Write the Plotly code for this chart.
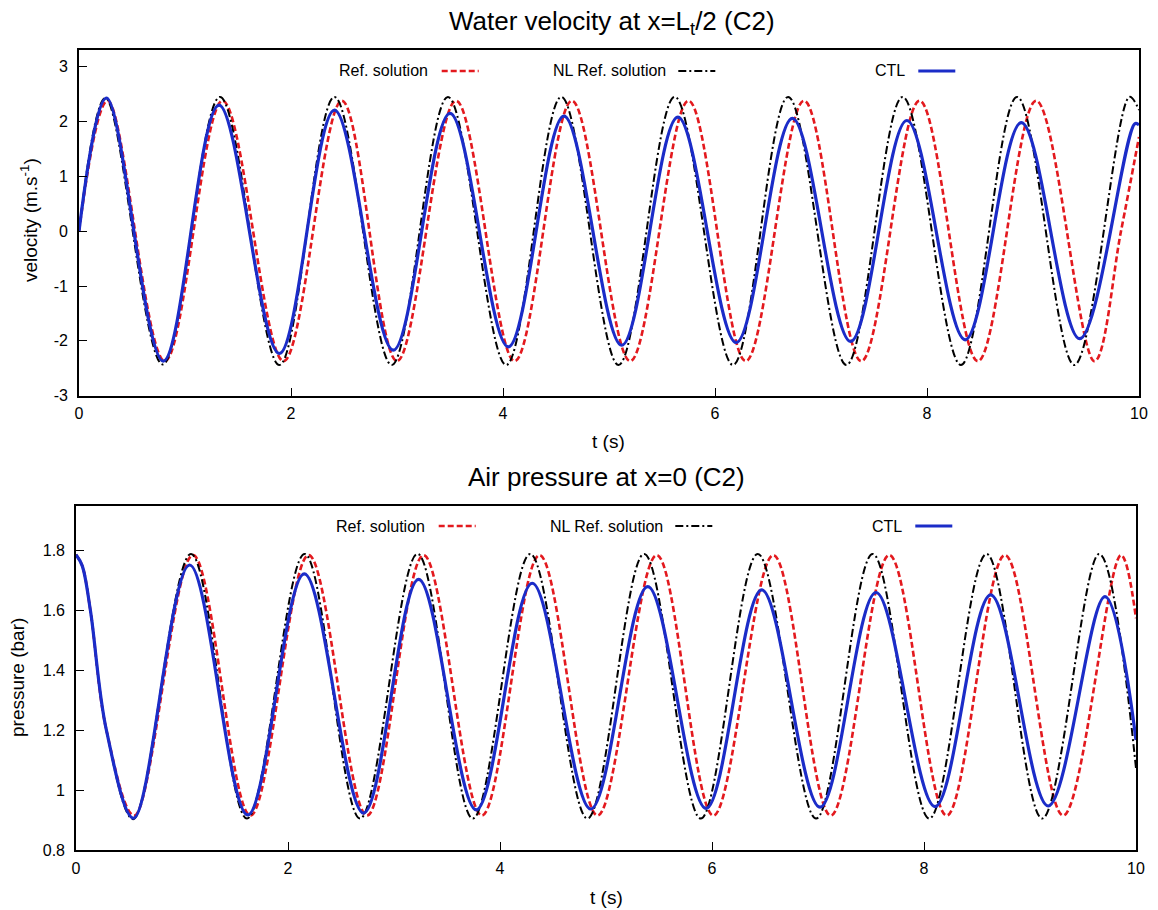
import plotly.graph_objects as go

# ---------------- data ----------------
# Top panel: water velocity (m/s) vs t (s); extrema + end points
vel_ref_t = [0, 0.27, 0.81, 1.355, 1.93, 2.48, 3.00, 3.557, 4.11, 4.65, 5.20, 5.75, 6.29, 6.84, 7.38, 7.93, 8.48, 9.03, 9.58, 9.83, 10]
vel_ref_v = [0, 2.38, -2.37, 2.38, -2.37, 2.38, -2.37, 2.38, -2.37, 2.38, -2.37, 2.38, -2.37, 2.38, -2.37, 2.38, -2.37, 2.38, -2.37, 0.0, 1.72]

vel_nl_t = [0, 0.25, 0.79, 1.33, 1.89, 2.41, 2.95, 3.48, 4.03, 4.55, 5.09, 5.62, 6.17, 6.69, 7.24, 7.77, 8.32, 8.85, 9.39, 9.91, 10]
vel_nl_v = [0, 2.43, -2.43, 2.45, -2.44, 2.45, -2.44, 2.45, -2.44, 2.45, -2.44, 2.45, -2.44, 2.45, -2.44, 2.45, -2.44, 2.45, -2.44, 2.45, 2.21]

vel_ctl_t = [0, 0.26, 0.795, 1.32, 1.89, 2.41, 2.965, 3.50, 4.05, 4.575, 5.12, 5.65, 6.20, 6.73, 7.28, 7.81, 8.36, 8.89, 9.44, 9.96, 10]
vel_ctl_v = [0, 2.43, -2.37, 2.30, -2.23, 2.21, -2.17, 2.15, -2.11, 2.10, -2.08, 2.08, -2.03, 2.06, -2.01, 2.02, -1.98, 1.98, -1.96, 1.96, 1.94]

# Bottom panel: air pressure (bar) vs t (s)
pre_ref_t = [0, 0.058, 0.136, 0.287, 0.55, 1.104, 1.645, 2.195, 2.745, 3.279, 3.829, 4.373, 4.92, 5.479, 6.013, 6.579, 7.12, 7.673, 8.214, 8.764, 9.313, 9.858, 10]
pre_ref_v = [1.786, 1.75, 1.60, 1.20, 0.915, 1.785, 0.915, 1.785, 0.915, 1.785, 0.915, 1.785, 0.915, 1.785, 0.915, 1.785, 0.915, 1.785, 0.915, 1.785, 0.915, 1.785, 1.574]

pre_nl_t = [0, 0.058, 0.136, 0.287, 0.54, 1.085, 1.613, 2.157, 2.68, 3.222, 3.744, 4.285, 4.825, 5.36, 5.894, 6.432, 6.982, 7.516, 8.05, 8.59, 9.115, 9.653, 10]
pre_nl_v = [1.786, 1.75, 1.60, 1.20, 0.903, 1.789, 0.905, 1.789, 0.905, 1.789, 0.905, 1.789, 0.905, 1.789, 0.905, 1.789, 0.905, 1.789, 0.905, 1.789, 0.905, 1.789, 1.073]

pre_ctl_t = [0, 0.058, 0.136, 0.287, 0.544, 1.072, 1.62, 2.154, 2.713, 3.232, 3.776, 4.304, 4.857, 5.394, 5.944, 6.469, 7.019, 7.547, 8.104, 8.629, 9.172, 9.707, 10]
pre_ctl_v = [1.786, 1.75, 1.60, 1.20, 0.906, 1.752, 0.917, 1.722, 0.923, 1.704, 0.934, 1.691, 0.937, 1.68, 0.939, 1.669, 0.943, 1.66, 0.945, 1.652, 0.947, 1.646, 1.167]

series_names = ["Ref. solution", "NL Ref. solution", "CTL"]

x_ticks = [0, 2, 4, 6, 8, 10]
x_ticktext = ["0", "2", "4", "6", "8", "10"]
vel_ticks = [-3, -2, -1, 0, 1, 2, 3]
vel_ticktext = ["-3", "-2", "-1", "0", "1", "2", "3"]
pre_ticks = [0.8, 1.0, 1.2, 1.4, 1.6, 1.8]
pre_ticktext = ["0.8", "1", "1.2", "1.4", "1.6", "1.8"]

# ---------------- styling ----------------
W, H = 1158, 910
FONT = "Liberation Sans, Arial, Helvetica, sans-serif"
RED = "#e3191e"
BLUE = "#1b2cc8"
BLACK = "#000000"
styles = [
    dict(color=RED, width=2.6, dash="6px,3px"),
    dict(color=BLACK, width=2.0, dash="8px,3px,2px,3px"),
    dict(color=BLUE, width=3.2, dash="solid"),
]

def px_x(p):
    return p / W

def px_y(p):
    return 1 - p / H

fig = go.Figure()

top = [(vel_ref_t, vel_ref_v), (vel_nl_t, vel_nl_v), (vel_ctl_t, vel_ctl_v)]
bot = [(pre_ref_t, pre_ref_v), (pre_nl_t, pre_nl_v), (pre_ctl_t, pre_ctl_v)]

for (t, v), name, st in zip(top, series_names, styles):
    fig.add_trace(go.Scatter(x=t, y=v, mode="lines", name=name, showlegend=False,
                             line=dict(shape="spline", smoothing=1.0, **st),
                             xaxis="x", yaxis="y"))
for (t, v), name, st in zip(bot, series_names, styles):
    fig.add_trace(go.Scatter(x=t, y=v, mode="lines", name=name, showlegend=False,
                             line=dict(shape="spline", smoothing=1.0, **st),
                             xaxis="x2", yaxis="y2"))

# panel geometry (pixels)
top_l, top_r, top_t, top_b = 79, 1139, 50.3, 395.7
bot_l, bot_r, bot_t, bot_b = 76, 1136, 505.7, 850

axis_common = dict(showline=True, linecolor="black", linewidth=1.6, mirror=True,
                   ticks="inside", ticklen=8, tickwidth=1.4, tickcolor="black",
                   showgrid=False, zeroline=False, automargin=False,
                   tickfont=dict(family=FONT, size=16, color="black"))

fig.update_layout(
    width=W, height=H,
    margin=dict(l=0, r=0, t=0, b=0, pad=0),
    showlegend=False,
    paper_bgcolor="white", plot_bgcolor="white",
    font=dict(family=FONT, color="black"),
    xaxis=dict(domain=[px_x(top_l), px_x(top_r)], range=[0, 10], anchor="y",
               tickvals=x_ticks, ticktext=x_ticktext, ticklabelstandoff=2, **axis_common),
    yaxis=dict(domain=[px_y(top_b), px_y(top_t)], range=[-3, 3.3], anchor="x",
               tickvals=vel_ticks, ticktext=vel_ticktext, ticklabelstandoff=6, **axis_common),
    xaxis2=dict(domain=[px_x(bot_l), px_x(bot_r)], range=[0, 10], anchor="y2",
                tickvals=x_ticks, ticktext=x_ticktext, ticklabelstandoff=3, **axis_common),
    yaxis2=dict(domain=[px_y(bot_b), px_y(bot_t)], range=[0.8, 1.95], anchor="x2",
                tickvals=pre_ticks, ticktext=pre_ticktext, ticklabelstandoff=6, **axis_common),
)

ann = []
# panel titles
ann.append(dict(text="Water velocity at x=L<sub>t</sub>/2 (C2)", x=px_x(612), y=px_y(22),
                xref="paper", yref="paper", xanchor="center", yanchor="middle",
                showarrow=False, font=dict(family=FONT, size=26, color="black")))
ann.append(dict(text="Air pressure at x=0 (C2)", x=px_x(606), y=px_y(477),
                xref="paper", yref="paper", xanchor="center", yanchor="middle",
                showarrow=False, font=dict(family=FONT, size=26, color="black")))
# axis titles
ann.append(dict(text="t (s)", x=px_x(608), y=px_y(441), xref="paper", yref="paper",
                xanchor="center", yanchor="middle", showarrow=False,
                font=dict(family=FONT, size=19, color="black")))
ann.append(dict(text="t (s)", x=px_x(606), y=px_y(897), xref="paper", yref="paper",
                xanchor="center", yanchor="middle", showarrow=False,
                font=dict(family=FONT, size=19, color="black")))
ann.append(dict(text="velocity (m.s<sup>-1</sup>)", x=px_x(29), y=px_y(220), xref="paper", yref="paper",
                xanchor="center", yanchor="middle", textangle=-90, showarrow=False,
                font=dict(family=FONT, size=19, color="black")))
ann.append(dict(text="pressure (bar)", x=px_x(17), y=px_y(678), xref="paper", yref="paper",
                xanchor="center", yanchor="middle", textangle=-90, showarrow=False,
                font=dict(family=FONT, size=19, color="black")))

# gnuplot-style keys (text followed by a line sample)
text_right_off = [351, 589.3, 827.7]
sample_start_off = [362.7, 599.3, 839.3]
sample_len = 37
shapes = []
for left, key_y in [(top_l, 71), (bot_l, 526)]:
    for name, st, tr, ss in zip(series_names, styles, text_right_off, sample_start_off):
        ann.append(dict(text=name, x=px_x(left + tr), y=px_y(key_y), xref="paper", yref="paper",
                        xanchor="right", yanchor="middle", showarrow=False,
                        font=dict(family=FONT, size=16, color="black")))
        shapes.append(dict(type="line", xref="paper", yref="paper",
                           x0=px_x(left + ss), x1=px_x(left + ss + sample_len),
                           y0=px_y(key_y), y1=px_y(key_y),
                           line=dict(color=st["color"], width=st["width"], dash=st["dash"])))

fig.update_layout(annotations=ann, shapes=shapes)

fig.write_html("out.html", config={"displayModeBar": False},
               post_script="document.body.style.margin='0';document.body.style.overflow='hidden';")
